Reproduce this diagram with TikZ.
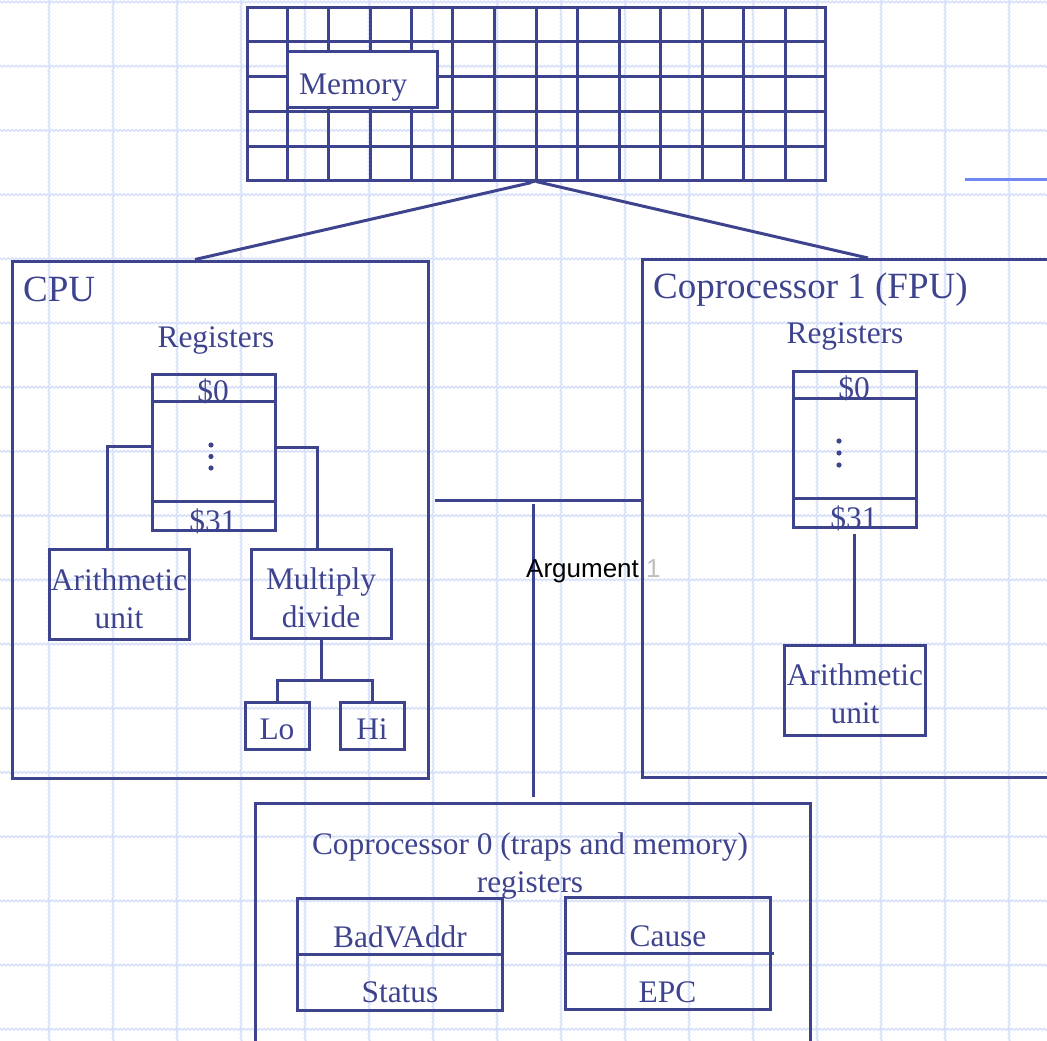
\documentclass[tikz,border=0pt]{standalone}
\usepackage{fontspec}
\setmainfont{Liberation Serif}
\newfontfamily\argfont{Liberation Sans}
\usetikzlibrary{positioning,calc,arrows.meta,decorations.pathmorphing}
\definecolor{ink}{RGB}{62,67,142}
\definecolor{paper}{RGB}{214,223,250}
\definecolor{hilite}{RGB}{112,136,240}
\tikzset{
    box/.style = {draw=ink, line width=3pt, rectangle, inner sep=0pt},
    lbl/.style = {text=ink, inner sep=0pt, anchor=base, align=center,
        font=\fontsize{31.4}{38}\selectfont},
    head/.style = {text=ink, inner sep=0pt, anchor=base west,
        font=\fontsize{37}{44}\selectfont},
    wire/.style = {draw=ink, line width=3pt},
    bgline/.style = {draw=paper, line width=1.4pt, decorate,
        decoration={snake, amplitude=0.8pt, segment length=4pt}}
}
\begin{document}
\begin{tikzpicture}[x=1pt, y=-1pt]
        \useasboundingbox (0,0) rectangle (1047,1041);
        \clip (0,0) rectangle (1047,1041);
        % background grid
        \foreach \k in {0,...,16}
            \draw[bgline] (-5,2+64.2*\k) -- (1052,2+64.2*\k);
        \foreach \k in {0,...,15}
            \draw[bgline] (49+64*\k,-5) -- (49+64*\k,1046);
        % memory
        \node [box, minimum width=578pt, minimum height=172pt] (mem) at (536,94) {};
        \foreach \i in {1,...,13}
            \draw[wire] ($(mem.north west)!\i/14!(mem.north east)$) -- ($(mem.south west)!\i/14!(mem.south east)$);
        \foreach \j in {1,...,4}
            \draw[wire] ($(mem.north west)!\j/5!(mem.south west)$) -- ($(mem.north east)!\j/5!(mem.south east)$);
        \node [box, fill=white, minimum width=150pt, minimum height=55pt] (memlbl) at (362,79.5) {};
        \node [lbl, anchor=base west] (memtxt) at (299,95) {Memory};
        \coordinate (stub) at (965,179);
        \draw[wire, draw=hilite] (stub) -- ++(90,0);
        % CPU
        \node [box, minimum width=416pt, minimum height=517pt] (cpu) at (220,519.5) {};
        \node [head] (cputxt) at (23,301) {CPU};
        \node [lbl] (cpuregtxt) at (216,347) {Registers};
        \node [box, minimum width=123pt, minimum height=156pt] (cpuregs) at (213.5,452) {};
        \draw[wire] ($(cpuregs.north west)+(0,29)$) -- ($(cpuregs.north east)+(0,29)$);
        \draw[wire] ($(cpuregs.south west)+(0,-30)$) -- ($(cpuregs.south east)+(0,-30)$);
        \node [lbl] (cpur0) at (213,401) {\$0};
        \node [lbl] (cpur31) at (213,531) {\$31};
        \foreach \d in {0,11.5,23} \fill[ink] (211,445+\d) circle (2.6);
        \node [box, minimum width=140pt, minimum height=90pt] (cpualu) at (119,594) {};
        \node [lbl] (cpualutxt) at (119,628) {Arithmetic\\unit};
        \node [box, minimum width=140pt, minimum height=89pt] (cpumul) at (321,593.5) {};
        \node [lbl] (cpumultxt) at (321,627) {Multiply\\divide};
        \node [box, minimum width=64pt, minimum height=47pt] (lo) at (277,725.5) {};
        \node [box, minimum width=64pt, minimum height=47pt, right=28pt of lo] (hi) {};
        \node [lbl] (lotxt) at (277,739) {Lo};
        \node [lbl] (hitxt) at (hi.center |- lotxt.base) {Hi};
        \draw[wire] ([yshift=6pt]cpuregs.west) -| ([xshift=-12pt]cpualu.north);
        \draw[wire] ([yshift=5pt]cpuregs.east) -| ([xshift=-4pt]cpumul.north);
        \draw[wire] (cpumul.south) -- ++(0,41) coordinate (split);
        \draw[wire] (lo.north) |- (split) -| (hi.north);
        % coprocessor 1
        \node [box, anchor=north west, minimum width=440pt, minimum height=518pt] (fpu) at (641,258) {};
        \node [head] (fputxt) at (653,298) {Coprocessor 1 (FPU)};
        \node [lbl] (fpuregtxt) at (845,343) {Registers};
        \node [box, minimum width=123pt, minimum height=156pt] (fpuregs) at (854.5,449) {};
        \draw[wire] ($(fpuregs.north west)+(0,29)$) -- ($(fpuregs.north east)+(0,29)$);
        \draw[wire] ($(fpuregs.south west)+(0,-30)$) -- ($(fpuregs.south east)+(0,-30)$);
        \node [lbl] (fpur0) at (854,398) {\$0};
        \node [lbl] (fpur31) at (854,528) {\$31};
        \foreach \d in {0,12,24} \fill[ink] (839,441+\d) circle (2.6);
        \node [box, minimum width=141pt, minimum height=90pt] (fpualu) at (854.5,690) {};
        \node [lbl] (fpualutxt) at (855,723) {Arithmetic\\unit};
        \draw[wire] ([yshift=-5pt]fpuregs.south) -- (fpualu.north);
        % memory links
        \draw[wire, -{Straight Barb[left, length=10pt, width=10pt, line width=2pt]}] ([xshift=-25pt]cpu.north) -- (mem.south);
        \draw[wire] (mem.south) -- ([xshift=227pt]fpu.north west);
        % coprocessor 0
        \node [box, anchor=north west, minimum width=555pt, minimum height=300pt] (cop0) at (254,802) {};
        \node [lbl] (cop0txt) at (530,892) {Coprocessor 0 (traps and memory)\\registers};
        \node [box, minimum width=205pt, minimum height=112pt] (bad) at (399.5,954) {};
        \node [box, minimum width=205pt, minimum height=112pt] (cause) at (667.5,953) {};
        \draw[wire] (bad.west) -- (bad.east);
        \draw[wire] (cause.west) -- ([xshift=2pt]cause.east);
        \node [lbl] (badtxt) at (400,947) {BadVAddr};
        \node [lbl] (stattxt) at (400,1002) {Status};
        \node [lbl] (causetxt) at (668,946) {Cause};
        \node [lbl] (epctxt) at (667.5,1002) {EPC};
        % bus
        \coordinate (busL) at ($(cpu.east)+(5,-19.5)$);
        \draw[wire] (busL) -- (busL -| fpu.west);
        \coordinate (busT) at (533,504);
        \draw[wire] (busT) -- ($(busT |- cop0.north)+(0,-5)$);
        \node [anchor=base west, inner sep=0pt, font=\argfont\fontsize{26}{31}\selectfont] (argtxt) at (526,577) {Argument \textcolor{black!25}{1}};
\end{tikzpicture}
\end{document}
